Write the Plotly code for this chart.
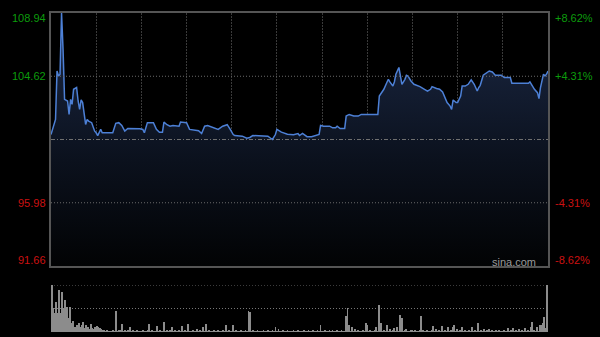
import plotly.graph_objects as go

prev_close = 100.30

price_minutes = [0, 3, 4, 5, 6, 7, 8, 9, 11, 12, 13, 14, 15, 17, 18, 19, 20, 21, 23, 24,
                 25, 27, 29, 30, 31, 33, 34, 41, 43, 45, 47, 49, 51, 55, 59, 61, 62, 64, 68, 70,
                 72, 74, 75, 77, 79, 81, 85, 86, 90, 92, 95, 98, 100, 102, 104, 108, 111, 114, 117, 119,
                 121, 122, 127, 130, 132, 134, 139, 144, 147, 149, 150, 153, 157, 161, 164, 165, 167, 169, 170, 173,
                 176, 178, 179, 181, 185, 187, 189, 190, 192, 195, 196, 198, 201, 204, 206, 217, 218, 220, 221, 223,
                 224, 225, 227, 228, 229, 231, 232, 233, 235, 236, 237, 239, 241, 243, 245, 248, 250, 252, 253, 256,
                 258, 260, 263, 265, 266, 267, 269, 270, 272, 273, 275, 277, 279, 281, 283, 284, 285, 287, 289, 291,
                 293, 295, 299, 301, 305, 306, 309, 314, 315, 317, 318, 320, 321, 323, 324, 325, 326, 327, 328, 329,
                 330]
price_values = [100.64, 101.67, 104.98, 104.64, 104.76, 108.94, 106.47, 103.04, 102.93, 102.01, 103.04, 102.70, 103.73, 103.85, 102.93, 102.36, 103.00, 102.82, 101.33, 101.67,
                101.56, 101.45, 100.87, 100.76, 100.57, 100.99, 100.76, 100.76, 101.40, 101.45, 101.26, 100.87, 101.05, 101.05, 101.03, 100.99, 100.76, 101.45, 101.45, 100.99,
                100.80, 100.80, 101.49, 101.31, 101.21, 101.26, 101.21, 101.49, 101.45, 100.99, 100.94, 100.90, 100.71, 101.21, 101.26, 101.10, 100.99, 101.21, 101.31, 100.99,
                100.64, 100.57, 100.53, 100.39, 100.44, 100.57, 100.53, 100.53, 100.30, 100.64, 100.99, 100.80, 100.66, 100.62, 100.71, 100.57, 100.71, 100.57, 100.49, 100.49,
                100.57, 100.64, 101.26, 101.21, 101.21, 101.10, 101.10, 101.21, 101.05, 101.05, 101.90, 102.01, 101.90, 101.90, 102.01, 102.01, 103.27, 103.61, 103.73, 104.19,
                104.41, 104.23, 103.95, 104.23, 104.76, 105.22, 104.64, 104.07, 104.41, 104.69, 104.64, 104.30, 104.07, 104.00, 103.91, 103.73, 103.61, 103.73, 103.91, 103.78,
                103.73, 103.54, 102.82, 102.58, 102.36, 103.00, 102.82, 102.82, 103.27, 103.95, 103.95, 104.07, 104.37, 104.07, 103.61, 103.85, 104.00, 104.69, 104.83, 104.98,
                104.91, 104.69, 104.69, 104.53, 104.53, 104.14, 104.14, 104.14, 104.19, 104.14, 104.23, 103.85, 103.73, 103.50, 103.09, 103.85, 104.41, 104.76, 104.64, 104.76,
                104.98]

volume_values = [
    47, 24, 19, 30, 19, 42, 19, 40, 24, 32, 25, 14, 25, 9, 11, 5, 5, 7, 9, 5,
    7, 10, 4, 7, 5, 3, 8, 4, 3, 5, 6, 5, 4, 3, 2, 2, 1, 2, 1, 1,
    1, 2, 1, 21, 1, 2, 2, 8, 1, 2, 1, 2, 5, 1, 2, 1, 1, 2, 1, 1,
    1, 2, 1, 1, 2, 8, 1, 2, 1, 1, 6, 1, 2, 1, 1, 10, 1, 2, 1, 2,
    5, 1, 2, 1, 1, 2, 1, 6, 1, 2, 1, 8, 1, 1, 2, 1, 1, 3, 1, 2,
    1, 5, 1, 8, 1, 2, 1, 1, 2, 1, 1, 2, 1, 1, 2, 1, 7, 1, 2, 1,
    1, 7, 1, 2, 1, 1, 2, 1, 1, 2, 1, 21, 20, 1, 2, 1, 1, 2, 1, 1,
    1, 2, 1, 1, 2, 1, 1, 2, 1, 5, 1, 3, 1, 1, 2, 1, 1, 2, 1, 1,
    1, 2, 1, 1, 2, 1, 1, 1, 2, 1, 1, 2, 1, 1, 2, 1, 1, 2, 1, 7,
    1, 1, 2, 1, 1, 2, 1, 2, 1, 1, 2, 1, 1, 2, 1, 1, 16, 24, 7, 1,
    5, 1, 3, 1, 2, 1, 1, 2, 1, 9, 7, 1, 2, 1, 1, 2, 5, 1, 27, 9,
    1, 2, 1, 7, 1, 3, 1, 2, 4, 1, 5, 1, 17, 14, 1, 2, 3, 1, 1, 2,
    2, 1, 2, 1, 1, 2, 16, 2, 1, 1, 2, 1, 1, 2, 6, 1, 3, 1, 2, 1,
    6, 1, 2, 1, 5, 1, 2, 5, 7, 1, 3, 1, 2, 5, 1, 2, 1, 1, 2, 1,
    5, 1, 2, 1, 9, 1, 2, 1, 3, 1, 2, 3, 1, 2, 1, 1, 2, 1, 2, 1,
    1, 2, 1, 1, 4, 1, 2, 4, 1, 2, 1, 3, 1, 2, 1, 4, 1, 2, 1, 5,
    10, 2, 1, 5, 1, 7, 7, 9, 15, 4, 47]
volume_minutes = list(range(len(volume_values)))

level_values = [108.94, 104.62, 95.98, 91.66]
left_labels = ["108.94", "104.62", "95.98", "91.66"]
right_labels = ["+8.62%", "+4.31%", "-4.31%", "-8.62%"]
level_colors = ["#0c9c0c", "#0c9c0c", "#cc1111", "#cc1111"]
label_shifts = [-5, 0, 0, 6]
grid_minutes = [30, 60, 90, 120, 150, 180, 210, 240, 270, 300]

W, H = 600, 337
main_x0, main_x1 = 51 / W, 548 / W
main_y0, main_y1 = (H - 266) / H, (H - 13) / H
vol_y0, vol_y1 = (H - 332) / H, (H - 285) / H

fig = go.Figure()

fig.add_trace(go.Scatter(
    x=price_minutes, y=price_values, mode="lines",
    line=dict(color="#4d80d6", width=1.5),
    fill="tozeroy",
    fillgradient=dict(type="vertical", start=91.66, stop=106.0,
                      colorscale=[[0, "#020304"], [0.5, "#0b111d"], [1, "#17223a"]]),
    xaxis="x", yaxis="y", hoverinfo="skip", showlegend=False))

fig.add_trace(go.Bar(
    x=volume_minutes, y=volume_values, width=0.6,
    marker=dict(color="#8c8c8c", line=dict(width=0)),
    xaxis="x2", yaxis="y2", hoverinfo="skip", showlegend=False))

fig.update_layout(
    width=W, height=H, margin=dict(l=0, r=0, t=0, b=0),
    paper_bgcolor="#000000", plot_bgcolor="#000000",
    xaxis=dict(domain=[main_x0, main_x1], range=[0, 330], tickvals=grid_minutes,
               showticklabels=False, showgrid=True, gridcolor="#3a3a3a", griddash="2px,1px",
               gridwidth=1, zeroline=False, showline=True, mirror=True,
               linecolor="#555555", linewidth=1.5, ticks=""),
    yaxis=dict(domain=[main_y0, main_y1], range=[91.66, 108.94], showticklabels=False,
               showgrid=False, zeroline=False, showline=True, mirror=True,
               linecolor="#555555", linewidth=1.5, ticks=""),
    xaxis2=dict(domain=[main_x0, main_x1], range=[-0.5, 330.5], anchor="y2",
                showticklabels=False, showgrid=False, zeroline=False, showline=False, ticks=""),
    yaxis2=dict(domain=[vol_y0, vol_y1], range=[0, 47], anchor="x2", showticklabels=False,
                showgrid=False, zeroline=False, showline=False, ticks=""),
    bargap=0,
)

# horizontal grid lines in price panel
for lv in [104.62, 95.98]:
    fig.add_shape(type="line", xref="x", yref="y", x0=0, x1=330, y0=lv, y1=lv,
                  line=dict(color="#6a6a6a", width=1, dash="1px,2px"), layer="above")
fig.add_shape(type="line", xref="x", yref="y", x0=0, x1=330, y0=prev_close, y1=prev_close,
              line=dict(color="#707070", width=1, dash="4px,2px,1px,2px"), layer="above")

# volume panel dotted lines
for lv in [47, 23.5]:
    fig.add_shape(type="line", xref="x2", yref="y2", x0=-0.5, x1=330.5, y0=lv, y1=lv,
                  line=dict(color="#777777", width=1, dash="1px,2px"), layer="below")

font = "Arial, Liberation Sans, sans-serif"
for lv, lt, rt, col, sh in zip(level_values, left_labels, right_labels, level_colors, label_shifts):
    fig.add_annotation(xref="paper", yref="y", x=48 / W, y=lv, yshift=sh, text=lt,
                       showarrow=False, xanchor="right", yanchor="middle",
                       font=dict(family=font, size=11, color=col))
    fig.add_annotation(xref="paper", yref="y", x=553 / W, y=lv, yshift=sh, text=rt,
                       showarrow=False, xanchor="left", yanchor="middle",
                       font=dict(family=font, size=11, color=col))

fig.add_annotation(xref="paper", yref="paper", x=538 / W, y=(H - 262) / H, text="sina.com",
                   showarrow=False, xanchor="right", yanchor="middle",
                   font=dict(family=font, size=11, color="#9a9a9a"))

fig.write_html("out.html")
